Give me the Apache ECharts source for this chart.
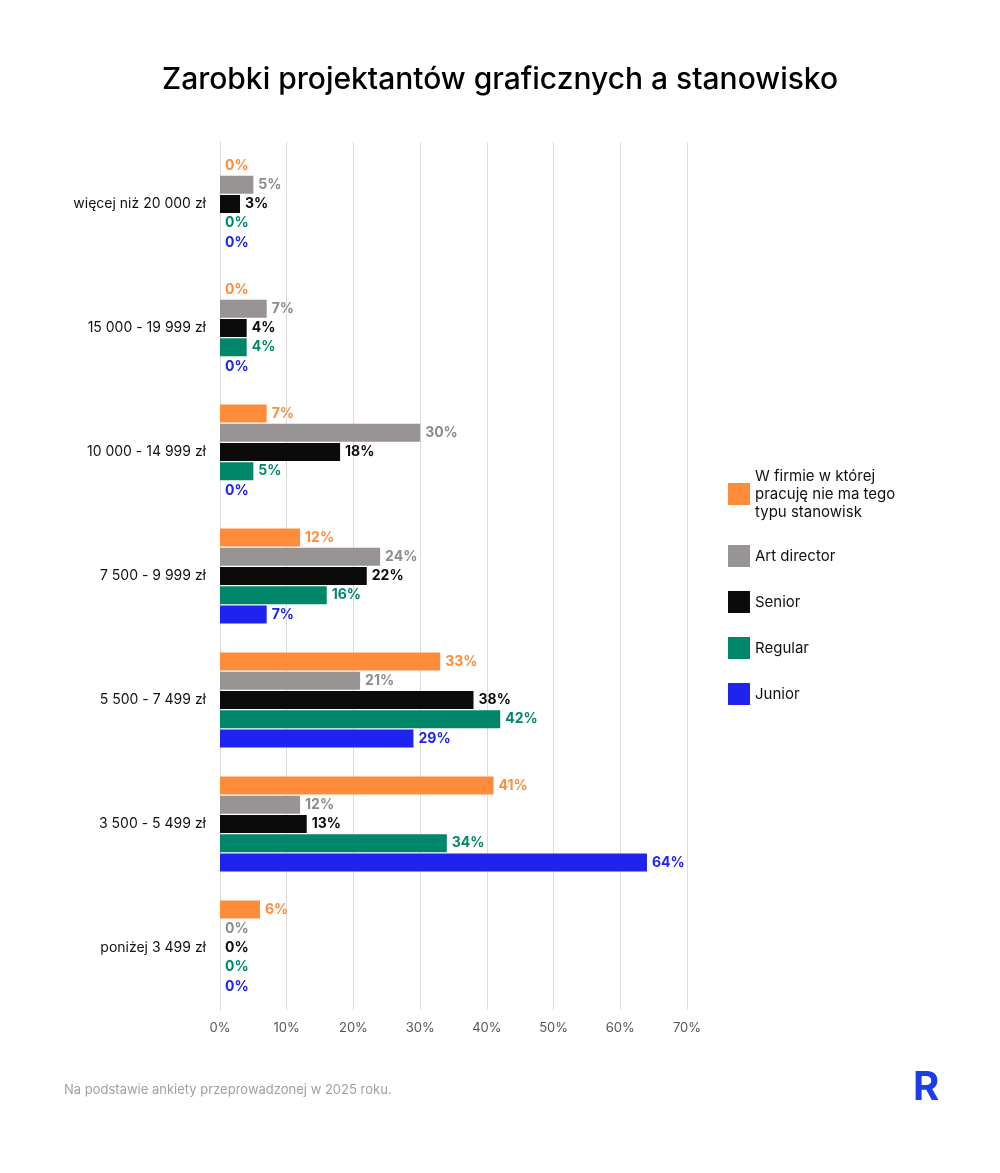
<!DOCTYPE html>
<html><head><meta charset="utf-8">
<script src="https://cdn.jsdelivr.net/npm/echarts@6/dist/echarts.min.js"></script>
<style>html,body{margin:0;padding:0;background:#fff}#c{width:1000px;height:1173px}</style>
</head><body><div id="c"></div>
<script>
const categories = ['więcej niż 20 000 zł','15 000 - 19 999 zł','10 000 - 14 999 zł','7 500 - 9 999 zł','5 500 - 7 499 zł','3 500 - 5 499 zł','poniżej 3 499 zł'];
const seriesNames = ['W firmie w której\npracuję nie ma tego\ntypu stanowisk','Art director','Senior','Regular','Junior'];
const noPosition = [0,0,7,12,33,41,6];
const artDirector = [5,7,30,24,21,12,0];
const senior = [3,4,18,22,38,13,0];
const regular = [0,4,5,16,42,34,0];
const junior = [0,0,0,7,29,64,0];
const xTicks = [0,10,20,30,40,50,60,70];
const colors = ['#FF8C3A','#999494','#0B0B0B','#00876A','#1E23F0'];
const labelColors = ['#FF8C3A','#8F8A8A','#0B0B0B','#00876A','#1E23F0'];
const allData = [noPosition,artDirector,senior,regular,junior];
const font = 'Inter, "Noto Sans", sans-serif';
const chart = echarts.init(document.getElementById('c'));
chart.setOption({
  animation:false,
  title:{text:'Zarobki projektantów graficznych a stanowisko',left:'center',top:60,textStyle:{fontFamily:font,fontSize:30,fontWeight:500,color:'#000'}},
  legend:[
    {data:[seriesNames[0]],orient:'vertical',left:723,top:462,itemWidth:22,itemHeight:22,icon:'rect',
     textStyle:{fontFamily:font,fontSize:15,color:'#111',lineHeight:18}},
    {data:seriesNames.slice(1),orient:'vertical',left:723,top:540,itemWidth:22,itemHeight:22,itemGap:24,icon:'rect',
     textStyle:{fontFamily:font,fontSize:15,color:'#111'}}
  ],
  grid:{left:220,right:313,top:142,bottom:163},
  xAxis:{type:'value',min:0,max:70,interval:10,
    axisLabel:{formatter:v=>v+'%',fontFamily:font,fontSize:13,color:'#555',margin:12},
    splitLine:{lineStyle:{color:'#dcdcdc'}},axisLine:{show:false},axisTick:{show:false}},
  yAxis:{type:'category',data:categories,inverse:true,
    axisLabel:{fontFamily:font,fontSize:14,color:'#111',margin:14},
    axisLine:{show:true,lineStyle:{color:'#dcdcdc'}},axisTick:{show:true,length:0},
    splitLine:{show:false}},
  series: seriesNames.map((n,i)=>({
    name:n,type:'bar',data:allData[i],barWidth:18,barGap:'7%',barCategoryGap:'22%',
    itemStyle:{color:colors[i]},
    label:{show:true,position:'right',distance:5,formatter:p=>p.value+'%',
      fontFamily:font,fontSize:14,fontWeight:'bold',color:labelColors[i]}
  })),
  graphic:[
    {type:'text',left:64,top:1084,style:{text:'Na podstawie ankiety przeprowadzonej w 2025 roku.',fontFamily:font,fontSize:13,fill:'#a0a0a0'}},
    {type:'text',left:913,top:1068,style:{text:'R',fontFamily:font,fontSize:40,fontWeight:'bold',fill:'#1E3BF0'}}
  ]
});
</script></body></html>
